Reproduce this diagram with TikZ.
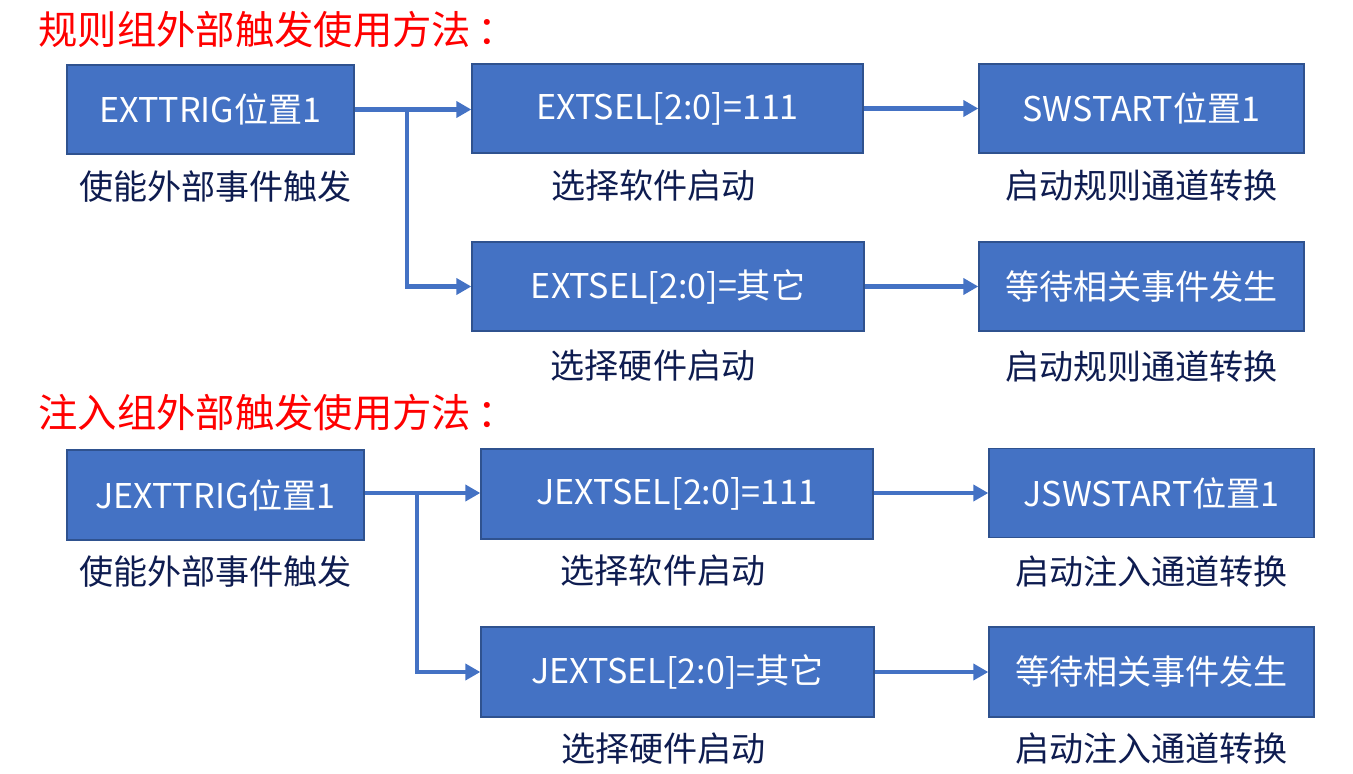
\documentclass[tikz,border=0pt]{standalone}
\usepackage{fontspec}
\setmainfont{Noto Sans CJK SC}
\usetikzlibrary{arrows.meta,positioning}

\definecolor{boxblue}{HTML}{4472C4}
\definecolor{boxedge}{HTML}{2F528F}
\definecolor{notenavy}{HTML}{0E1C50}

\begin{document}
\begin{tikzpicture}[
  x=0.02cm, y=-0.02cm,
  >={Triangle[length=0.3cm,width=0.32cm]},
  blk/.style={draw=boxedge,fill=boxblue,line width=0.8pt,rectangle,
              minimum height=1.78cm,inner sep=0pt,text=white,
              font=\fontsize{19.4}{22}\selectfont},
  note/.style={text=notenavy,inner sep=0pt,font=\fontsize{19.4}{22}\selectfont},
  title/.style={text=red,anchor=west,inner sep=0pt,font=\fontsize{22.4}{26}\selectfont},
  flow/.style={draw=boxblue,line width=2.3pt},
]
\useasboundingbox (0,0) rectangle (1353,774);

%% ---------- regular group ----------
\node[title] (t1) at (38,30) {规则组外部触发使用方法\kern0.12cm：};

\node[blk,minimum width=5.74cm] (trig) at (210.5,109.5) {EXTTRIG位置1};
\node[blk,minimum width=7.82cm] (selsw) at (667.5,108.5) {EXTSEL[2:0]=111};
\node[blk,minimum width=6.5cm] (swst) at (1141.5,108.5) {SWSTART位置1};
\node[blk,minimum width=7.84cm] (selhw) at (668,286.5) {EXTSEL[2:0]=其它};
\node[blk,minimum width=6.5cm] (wait) at (1141.5,286.5) {等待相关事件发生};

\node[note,below=0.32cm of trig,xshift=0.1cm] {使能外部事件触发};
\node[note,below=0.32cm of selsw,xshift=-0.28cm] {选择软件启动};
\node[note,below=0.32cm of swst] {启动规则通道转换};
\node[note,below=0.36cm of selhw,xshift=-0.3cm] {选择硬件启动};
\node[note,below=0.38cm of wait] {启动规则通道转换};

\coordinate (fork) at (407,109.5);
\draw[flow,->] (trig.east) -- (selsw.west|-trig.east);
\draw[flow,->] (fork) |- (selhw.west);
\draw[flow,->] (selsw.east) -- (swst.west|-selsw.east);
\draw[flow,->] (selhw.east) -- (wait.west);

%% ---------- injected group ----------
\node[title] (t2) at (38,413) {注入组外部触发使用方法\kern0.12cm：};

\node[blk,minimum width=5.94cm,minimum height=1.8cm] (jtrig) at (215.5,495) {JEXTTRIG位置1};
\node[blk,minimum width=7.84cm,minimum height=1.8cm] (jselsw) at (677,494) {JEXTSEL[2:0]=111};
\node[blk,minimum width=6.5cm] (jswst) at (1151.5,493) {JSWSTART位置1};
\node[blk,minimum width=7.86cm,minimum height=1.8cm] (jselhw) at (677.5,672) {JEXTSEL[2:0]=其它};
\node[blk,minimum width=6.5cm,minimum height=1.8cm] (jwait) at (1151.5,672) {等待相关事件发生};

\node[note,below=0.3cm of jtrig] {使能外部事件触发};
\node[note,below=0.3cm of jselsw,xshift=-0.28cm] {选择软件启动};
\node[note,below=0.34cm of jswst] {启动注入通道转换};
\node[note,below=0.3cm of jselhw,xshift=-0.28cm] {选择硬件启动};
\node[note,below=0.3cm of jwait] {启动注入通道转换};

\coordinate (jfork) at (417,493);
\draw[flow,->] (jtrig.east|-jfork) -- (jselsw.west|-jfork);
\draw[flow,->] (jfork) |- (jselhw.west);
\draw[flow,->] (jselsw.east|-jfork) -- (jswst.west|-jfork);
\draw[flow,->] (jselhw.east) -- (jwait.west);

\end{tikzpicture}
\end{document}
